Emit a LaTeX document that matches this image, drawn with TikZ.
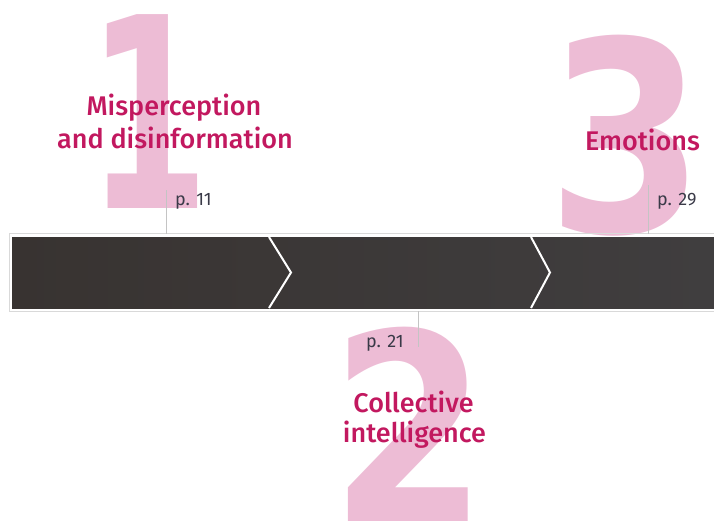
\documentclass[tikz,border=0pt]{standalone}
\usepackage{fontspec}
\setmainfont{Fira Sans}[UprightFont=* Medium]
\newfontfamily\reffont{Fira Sans}
\newfontfamily\digitfont{DejaVu Sans}
\definecolor{numpink}{HTML}{EDBCD5}
\definecolor{titlemag}{HTML}{C2185F}
\definecolor{refgray}{HTML}{3A3A48}
\definecolor{barleft}{HTML}{383331}
\definecolor{barright}{HTML}{403E3F}
\definecolor{barrim}{HTML}{D9D9D9}
\definecolor{leadergray}{HTML}{C4C4C4}
\begin{document}
\begin{tikzpicture}[x=1pt,y=-1pt,
  bignum/.style={anchor=base, inner sep=0, text=numpink,
    font=\digitfont\bfseries\fontsize{266}{266}\selectfont},
  title/.style={anchor=base, inner sep=0, text=titlemag,
    font=\fontsize{27}{33}\selectfont},
  pageref/.style={anchor=base west, inner sep=0, text=refgray,
    font=\reffont\fontsize{18}{18}\selectfont},
  leaderline/.style={draw=leadergray, line width=0.8pt},
  chevron/.style={draw=white, line width=2pt}]
\useasboundingbox (0,0) rectangle (714,520);

% large background chapter numbers
\begin{scope}
  \clip (0,0) rectangle (714,520);
  \node[bignum] (num1) at (149,208) {\scalebox{0.66}[1]{1}};
  \node[bignum] (num3) at (626,232) {\scalebox{0.85}[1]{3}};
  \node[bignum] (num2) at (409,524) {\scalebox{0.85}[1]{2}};
\end{scope}

% timeline bar
\draw[barrim, line width=0.8pt] (9,233.5) rectangle (720,311.5);
\shade[left color=barleft, right color=barright] (12,237) rectangle (714,308);
\coordinate (c1top) at (269,237);
\coordinate (c1tip) at (291,272.5);
\coordinate (c1bot) at (269,308);
\coordinate (c2top) at (531,237);
\coordinate (c2tip) at (550,272.5);
\coordinate (c2bot) at (531,308);
\draw[chevron] (c1top) -- (c1tip) -- (c1bot);
\draw[chevron] (c2top) -- (c2tip) -- (c2bot);

% leaders from page references to the bar
\coordinate (l1a) at (166,190);
\coordinate (l1b) at (166,234);
\coordinate (l3a) at (648,185);
\coordinate (l3b) at (648,234);
\coordinate (l2a) at (418,311);
\coordinate (l2b) at (418,347);
\draw[leaderline] (l1a) -- (l1b);
\draw[leaderline] (l3a) -- (l3b);
\draw[leaderline] (l2a) -- (l2b);

% chapter titles
\node[title] (t1a) at (174,115) {Misperception};
\node[title] (t1b) at (175,148) {and disinformation};
\node[title] (t3) at (642.5,150) {Emotions};
\node[title] (t2a) at (413.5,412) {Collective};
\node[title] (t2b) at (414.5,442) {intelligence};

% page references
\node[pageref] (p1) at (175,205) {p. 11};
\node[pageref] (p3) at (657,205) {p. 29};
\node[pageref] (p2) at (366,347) {p. 21};
\end{tikzpicture}
\end{document}
